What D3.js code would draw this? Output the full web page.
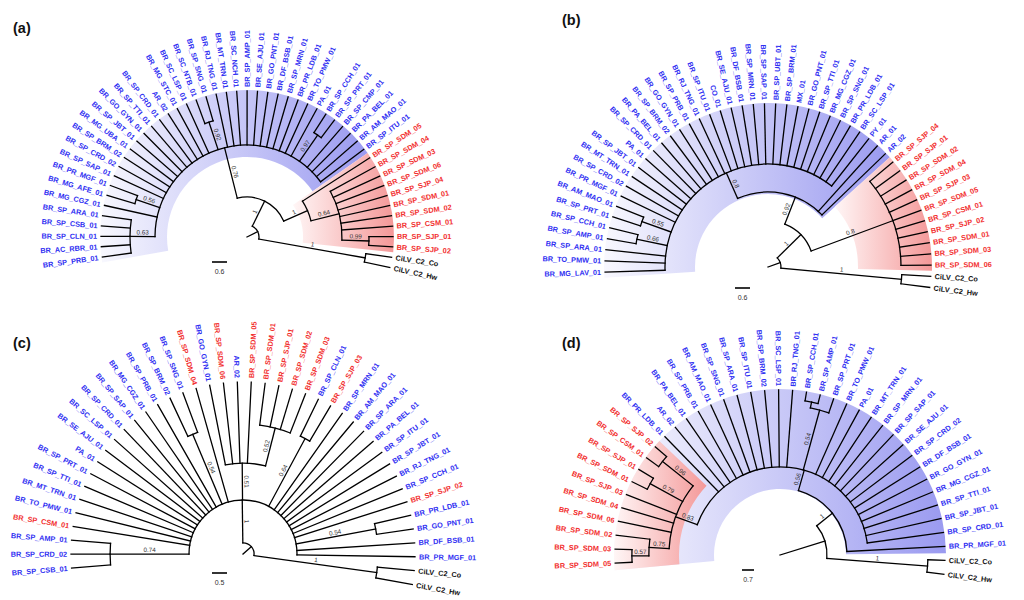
<!DOCTYPE html>
<html>
<head>
<meta charset="utf-8">
<script src="https://cdn.jsdelivr.net/npm/d3@7"></script>
<style>
  body { margin: 0; background: #fff; }
  svg { display: block; }
  text { font-family: "Liberation Sans", Arial, sans-serif; }
</style>
</head>
<body>
<svg id="chart" width="1024" height="600"></svg>
<script>
// trees as newick: branch lengths in tree units, internal labels are support values
var treeA = "((((BR_SP_PRB_01,BR_AC_RBR_01,BR_SP_CLN_01,BR_SP_CSB_01,BR_SP_ARA_01)0.63:1.0,BR_MG_CGZ_01,(BR_MG_AFE_01,BR_PR_MGF_01)0.56:1.0,BR_SP_SAP_01,BR_SP_CRD_02,BR_SP_BRM_02,BR_MG_UBA_01,BR_SP_JBT_01,BR_GO_GYN_01,BR_SP_TTI_01,BR_SP_CRD_01,AR_02,BR_MG_STC_01,BR_SC_LSP_01,(BR_SC_NTB_01,BR_SP_SNG_01)0.92:1.16,BR_RJ_TNG_01,BR_MT_TRN_01,BR_SC_NCH_01,BR_SP_AMP_01,BR_SE_AJU_01,BR_GO_PNT_01,BR_DF_BSB_01,BR_SP_MRN_01,BR_PR_LDB_01,BR_TO_PMW_01,PA_01,(BR_SP_CCH_01,BR_SP_PRT_01)0.97:1.28,BR_SP_CMP_01,BR_PA_BEL_01,BR_AM_MAO_01,BR_SP_ITU_01)0.76:2.08,(BR_SP_SDM_05,(BR_SP_SDM_04,BR_SP_SDM_03,BR_SP_SDM_06,BR_SP_SJP_04,BR_SP_SDM_01,BR_SP_SDM_02,BR_SP_CSM_01,(BR_SP_SJP_01,BR_SP_SJP_02)0.99:1.08)0.64:1.16)1:1.04)1:1.12,(CiLV_C2_Co,CiLV_C2_Hw)1:4.32):0.48;";

var treeB = "((((BR_MG_LAV_01,BR_TO_PMW_01,BR_SP_ARA_01,(BR_SP_AMP_01,BR_SP_CCH_01)0.66:1.24,(BR_SP_PRT_01,BR_AM_MAO_01)0.55:1.24,BR_PR_MGF_01,BR_SP_CRD_02,BR_MT_TRN_01,BR_SP_JBT_01,PA_01,BR_SP_CRD_01,BR_PA_BEL_01,BR_SP_BRM_02,BR_GO_GYN_01,BR_SP_PRB_01,BR_RJ_TNG_01,BR_SP_ITU_01,CO_01,BR_SE_AJU_01,BR_DF_BSB_01,BR_SP_MRN_01,BR_SP_SAP_01,BR_SP_UBT_01,BR_SP_BRM_01,MX_01,BR_GO_PNT_01,BR_SP_TTI_01,BR_MG_CGZ_01,BR_SP_SNG_01,BR_PR_LDB_01,BR_SC_LSP_01,PY_01)0.8:1.12,AR_01,AR_02)0.92:1.16,(BR_SP_SJP_04,BR_SP_SJP_01,BR_SP_SDM_02,BR_SP_SDM_04,BR_SP_SJP_03,BR_SP_SDM_05,BR_SP_CSM_01,BR_SP_SJP_02,BR_SP_SDM_01,BR_SP_SDM_03,BR_SP_SDM_06)0.8:3.48)1:1.32,(CiLV_C2_Co,CiLV_C2_Hw)1:4.84):0.52;";

var treeC = "(((BR_SP_CSB_01,BR_SP_CRD_02,BR_SP_AMP_01)0.74:2.63,BR_SP_CSM_01,BR_TO_PMW_01,BR_MT_TRN_01,BR_SP_TTI_01,BR_SP_PRT_01,PA_01,BR_SE_AJU_01,BR_SC_LSP_01,BR_SP_CRD_01,BR_SP_SAP_01,BR_MG_CGZ_01,BR_SP_PRB_01,(BR_SP_BRM_02,BR_SP_SNG_01)0.54:2.53,BR_SP_SDM_04,(BR_GO_GYN_01,BR_SP_SDM_06,AR_02,BR_SP_SDM_05,(BR_SP_SDM_01,BR_SP_SJP_01,BR_SP_SDM_02,BR_SP_SDM_03)0.52:1.3)0.51:1.23,(BR_SP_CLN_01,BR_SP_SJP_03)0.64:2.57,BR_SP_MRN_01,BR_AM_MAO_01,BR_SP_ARA_01,BR_PA_BEL_01,BR_SP_ITU_01,BR_SP_JBT_01,BR_RJ_TNG_01,BR_SP_CCH_01,BR_SP_SJP_02,(BR_PR_LDB_01,BR_GO_PNT_01)0.54:2.7,BR_DF_BSB_01,BR_PR_MGF_01)1:1.43,(CiLV_C2_Co,CiLV_C2_Hw)1:4.13):0.37;";

var treeD = "((((((BR_SP_SDM_05,BR_SP_SDM_03)0.57:0.99,BR_SP_SDM_02)0.75:1.17,BR_SP_SDM_06,BR_SP_SDM_04,BR_SP_SJP_03,(BR_SP_SDM_01,BR_SP_SJP_01)0.79:2.16,(BR_SP_CSM_01,BR_SP_SJP_02)0.96:2.28)0.83:1.34,BR_PR_LDB_01,AR_02,BR_PA_BEL_01,BR_SP_PRB_01,BR_AM_MAO_01,BR_SP_SNG_01,BR_SP_ARA_01,BR_SP_ITU_01,BR_SP_BRM_02,BR_SC_LSP_01,BR_RJ_TNG_01,((BR_SP_CCH_01,BR_SP_AMP_01):0.35,BR_SP_PRT_01)0.54:3.62,BR_TO_PMW_01,PA_01,BR_MT_TRN_01,BR_SP_MRN_01,BR_SP_SAP_01,BR_SE_AJU_01,BR_SP_CRD_02,BR_DF_BSB_01,BR_GO_GYN_01,BR_MG_CGZ_01,BR_SP_TTI_01,BR_SP_JBT_01,BR_SP_CRD_01)0.56:1.23,BR_PR_MGF_01)1:1.17,(CiLV_C2_Co,CiLV_C2_Hw)1:5.89):2.74;";

var trees = [treeA, treeB, treeC, treeD];
var panelLetters = ["(a)", "(b)", "(c)", "(d)"];
var scaleBarValues = [0.6, 0.6, 0.5, 0.7];
var redIsolates = ["BR_SP_SDM_01", "BR_SP_SDM_02", "BR_SP_SDM_03", "BR_SP_SDM_04", "BR_SP_SDM_05",
                   "BR_SP_SDM_06", "BR_SP_SJP_01", "BR_SP_SJP_02", "BR_SP_SJP_03", "BR_SP_SJP_04", "BR_SP_CSM_01"];
var outgroup = ["CiLV_C2_Co", "CiLV_C2_Hw"];

// page layout for each panel
var layout = [
  {cx: 247, cy: 237, R: 146, a0: 187.9, a1: -12.06, barPx: 15, barX: 212, barY: 262, lx: 13, ly: 33,
   hl: [{from: "BR_SP_PRB_01", to: "BR_SP_ITU_01", r0: 80, c: "blue"},
        {from: "BR_SP_SDM_05", to: "BR_SP_SJP_02", r0: 56, c: "red"}]},
  {cx: 768, cy: 267, R: 163, a0: 181.8, a1: -7.2, barPx: 15, barX: 735, barY: 288, lx: 562, ly: 25,
   hl: [{from: "BR_MG_LAV_01", to: "AR_02", r0: 73, c: "blue"},
        {from: "BR_SP_SJP_04", to: "BR_SP_SDM_06", r0: 90, c: "red"}]},
  {cx: 243, cy: 554, R: 172, a0: 184.7, a1: -10.2, barPx: 15, barX: 212, barY: 573, lx: 13, ly: 348,
   hl: []},
  {cx: 780, cy: 555, R: 165, a0: 182.8, a1: -6.7, barPx: 12, barX: 742, barY: 570, lx: 562, ly: 348,
   hl: [{from: "BR_SP_SDM_05", to: "BR_PR_MGF_01", r0: 66, c: "blue"},
        {from: "BR_SP_SDM_05", to: "BR_SP_SJP_02", r0: 101, c: "red"}]}
];

var gradColors = {blue: ["#f8f8fe", "#9a9af0"], red: ["#fff6f6", "#f49898"]};

function parseNewick(s) {
  var i = 0;
  function node() {
    var n = {};
    if (s[i] === "(") {
      i++;
      n.children = [];
      do { n.children.push(node()); } while (s[i++] === ",");
    }
    var name = "";
    while (i < s.length && ",():;".indexOf(s[i]) < 0) name += s[i++];
    n.name = name.trim();
    if (s[i] === ":") {
      i++;
      var l = "";
      while (i < s.length && ",();".indexOf(s[i]) < 0) l += s[i++];
      n.length = +l;
    }
    return n;
  }
  return node();
}

var svg = d3.select("#chart");
var defs = svg.append("defs");

function rot(a) { return a > 90.2 ? 180 - a : -a; }

function drawPanel(tree, cfg, idx) {
  var root = d3.hierarchy(parseNewick(tree));
  var k = cfg.barPx / scaleBarValues[idx];
  var rScale = d3.scaleLinear().domain([0, 1]).range([0, k]);

  root.each(function(d) {
    d.len = (d.parent ? d.parent.len : 0) + (d.data.length || 0);
  });

  var leaves = root.leaves();
  var angle = d3.scaleLinear().domain([0, leaves.length - 1]).range([cfg.a0, cfg.a1]);
  var step = Math.abs(angle(1) - angle(0));
  leaves.forEach(function(d, j) { d.angle = angle(j); d.r = cfg.R; });
  root.eachAfter(function(d) {
    if (d.children) {
      d.angle = d3.mean(d.children, function(c) { return c.angle; });
      d.r = rScale(d.len);
    }
  });

  function pt(r, a) {
    var t = a * Math.PI / 180;
    return [cfg.cx + r * Math.cos(t), cfg.cy - r * Math.sin(t)];
  }

  var g = svg.append("g");

  // clade highlights
  var arcGen = d3.arc();
  cfg.hl.forEach(function(h, j) {
    var first = leaves.find(function(l) { return l.data.name === h.from; });
    var last = leaves.find(function(l) { return l.data.name === h.to; });
    var aHi = first.angle + step / 2, aLo = last.angle - step / 2;
    var gid = "grad" + idx + "_" + j;
    var grad = defs.append("linearGradient").attr("id", gid)
      .attr("x1", 0).attr("x2", 1).attr("y1", 0).attr("y2", 0);
    grad.append("stop").attr("offset", 0).attr("stop-color", gradColors[h.c][0]);
    grad.append("stop").attr("offset", 1).attr("stop-color", gradColors[h.c][1]);
    g.append("path")
      .attr("transform", "translate(" + cfg.cx + "," + cfg.cy + ")")
      .attr("d", arcGen({innerRadius: h.r0, outerRadius: cfg.R + 1,
                         startAngle: (90 - aHi) * Math.PI / 180, endAngle: (90 - aLo) * Math.PI / 180}))
      .attr("fill", "url(#" + gid + ")");
  });

  // branches: radial segment for every node, arc for every internal node
  var lines = g.append("g").attr("stroke", "#000").attr("stroke-width", 1.3)
    .attr("fill", "none").attr("stroke-linecap", "square");
  root.descendants().forEach(function(d) {
    var r0 = d.parent ? d.parent.r : 0;
    var p0 = pt(r0, d.angle), p1 = pt(d.r, d.angle);
    lines.append("line")
      .attr("x1", p0[0]).attr("y1", p0[1]).attr("x2", p1[0]).attr("y2", p1[1]);
    if (d.children) {
      var amax = d3.max(d.children, function(c) { return c.angle; });
      var amin = d3.min(d.children, function(c) { return c.angle; });
      var p = d3.path();
      p.arc(cfg.cx, cfg.cy, d.r, -amax * Math.PI / 180, -amin * Math.PI / 180);
      lines.append("path").attr("d", p.toString());
    }
  });

  // tip labels
  leaves.forEach(function(d) {
    var p = pt(cfg.R + 4, d.angle);
    var name = d.data.name;
    var col = outgroup.indexOf(name) >= 0 ? "#111" : (redIsolates.indexOf(name) >= 0 ? "#f22f2f" : "#3030f2");
    g.append("text")
      .attr("transform", "translate(" + p[0] + "," + p[1] + ") rotate(" + rot(d.angle) + ")")
      .attr("text-anchor", d.angle > 90.2 ? "end" : "start")
      .attr("dy", "0.35em")
      .attr("font-size", 7.3)
      .attr("font-weight", "bold")
      .attr("fill", col)
      .text(name);
  });

  // support values on branches
  root.descendants().filter(function(d) { return d.children && d.parent && d.data.name; })
    .forEach(function(d) {
      var p = pt((d.parent.r + d.r) / 2, d.angle);
      g.append("text")
        .attr("transform", "translate(" + p[0] + "," + p[1] + ") rotate(" + rot(d.angle) + ")")
        .attr("text-anchor", "middle")
        .attr("dy", -2)
        .attr("font-size", 6.3)
        .attr("fill", "#333")
        .text(d.data.name);
    });

  // scale bar
  g.append("line")
    .attr("x1", cfg.barX).attr("x2", cfg.barX + cfg.barPx)
    .attr("y1", cfg.barY).attr("y2", cfg.barY)
    .attr("stroke", "#000").attr("stroke-width", 1.6);
  g.append("text")
    .attr("x", cfg.barX + cfg.barPx / 2).attr("y", cfg.barY + 12)
    .attr("text-anchor", "middle").attr("font-size", 7).attr("fill", "#333")
    .text(scaleBarValues[idx]);

  // panel letter
  g.append("text")
    .attr("x", cfg.lx).attr("y", cfg.ly)
    .attr("font-size", 14.5).attr("font-weight", "bold").attr("fill", "#111")
    .text(panelLetters[idx]);
}

trees.forEach(function(t, i) { drawPanel(t, layout[i], i); });
</script>
</body>
</html>
